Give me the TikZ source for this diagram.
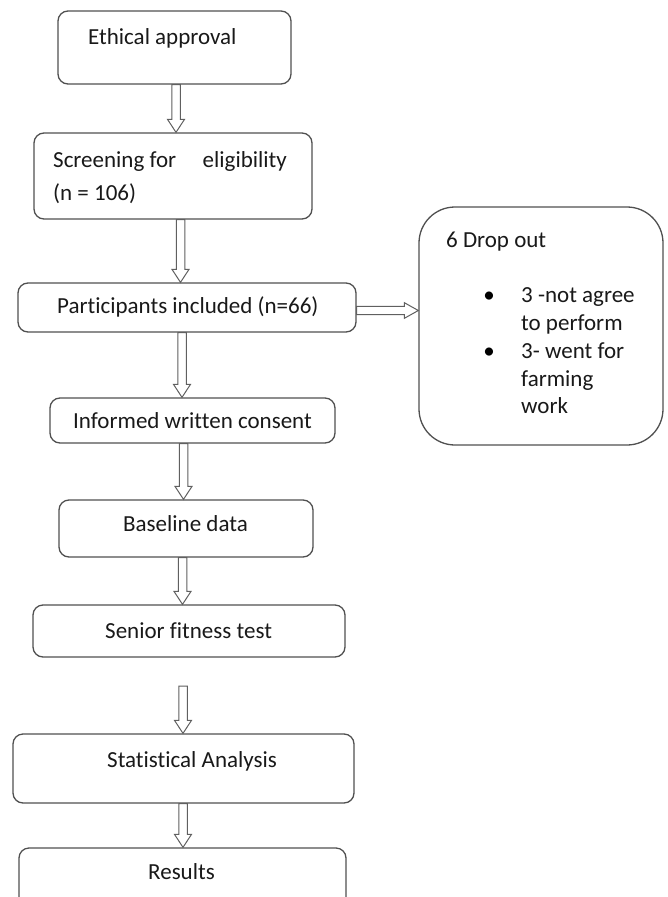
\documentclass[tikz,border=0pt]{standalone}
\usepackage{fontspec}
\setmainfont{Carlito}[Ligatures={NoCommon}]
\usetikzlibrary{calc}
\definecolor{boxline}{HTML}{505050}
\definecolor{arrline}{HTML}{606060}
\tikzset{
  box/.style={draw=boxline, line width=1.3pt, rounded corners=10pt, rectangle, inner sep=0pt, fill=white},
  bigbox/.style={box, rounded corners=36pt},
  txt/.style={anchor=base west, inner sep=0pt, font=\fontsize{23}{27}\selectfont, text=black!90},
  bul/.style={anchor=base, inner sep=0pt, font=\fontsize{23}{27}\selectfont, text=black},
  harrow/.style={draw=arrline, line width=1pt, fill=white, line join=miter}
}
\newcommand{\hollowdown}[3]{%
  \draw[harrow] let \p1=(#2), \p2=(#3) in
   (#1pt-4.25pt,\y1) -- (#1pt-4.25pt,\y2+13pt) -- (#1pt-8.5pt,\y2+13pt) -- (#1pt,\y2)
   -- (#1pt+8.5pt,\y2+13pt) -- (#1pt+4.25pt,\y2+13pt) -- (#1pt+4.25pt,\y1) -- cycle;}
\newcommand{\hollowright}[3]{%
  \draw[harrow] let \p1=(#2), \p2=(#3) in
   (\x1,-#1pt+4.2pt) -- (\x2-14pt,-#1pt+4.2pt) -- (\x2-14pt,-#1pt+7.8pt) -- (\x2,-#1pt)
   -- (\x2-14pt,-#1pt-7.8pt) -- (\x2-14pt,-#1pt-4.2pt) -- (\x1,-#1pt-4.2pt) -- cycle;}
\begin{document}
\begin{tikzpicture}[x=1pt,y=-1pt]
\useasboundingbox (0,0) rectangle (667,897);
\fill[white] (0,0) rectangle (667,897);
% boxes
\node[box, minimum width=233, minimum height=73] (e1) at (174.5,47.5) {};
\node[box, minimum width=278, minimum height=86] (e2) at (173,176) {};
\node[box, minimum width=338, minimum height=49] (e3) at (187,307.5) {};
\node[bigbox, minimum width=244, minimum height=238] (e4) at (541,326) {};
\node[box, minimum width=285, minimum height=45] (e5) at (192.5,420.5) {};
\node[box, minimum width=254, minimum height=57] (e6) at (186,528.5) {};
\node[box, minimum width=312, minimum height=52] (e7) at (189,631) {};
\node[box, minimum width=341, minimum height=69] (e8) at (183.5,768.5) {};
\node[box, minimum width=327, minimum height=62] (e9) at (182.5,879) {};
\coordinate (a6top) at (183,686);
% texts
\node[txt] (t1) at (88,44) {Ethical approval};
\node[txt] (t2a) at (53,167) {Screening for\hspace{26.5pt}eligibility};
\node[txt] (t2b) at (53,200) {(n = 106)};
\node[txt] (t3) at (57,313) {Participants included (n=66)};
\node[txt] (t4) at (446,247) {6 Drop out};
\node[bul] (b1) at (489,302) {\textbullet};
\node[bul] (b2) at (489,358) {\textbullet};
\node[txt] (t4a) at (521,302) {3 -not agree};
\node[txt] (t4b) at (521,330) {to perform};
\node[txt] (t4c) at (521,358) {3- went for};
\node[txt] (t4d) at (521,386) {farming};
\node[txt] (t4e) at (521,413) {work};
\node[txt] (t5) at (73,428) {Informed written consent};
\node[txt] (t6) at (123,531) {Baseline data};
\node[txt] (t7) at (105,638) {Senior fitness test};
\node[txt] (t8) at (107,767) {Statistical Analysis};
\node[txt] (t9) at (148,879) {Results};
% arrows
\hollowdown{176}{e1.south}{e2.north}
\hollowdown{180.5}{e2.south}{e3.north}
\hollowdown{182}{e3.south}{e5.north}
\hollowdown{183.5}{e5.south}{e6.north}
\hollowdown{182.5}{e6.south}{e7.north}
\hollowdown{183}{a6top}{e8.north}
\hollowdown{183}{e8.south}{e9.north}
\hollowright{310.5}{e3.east}{e4.west}
\end{tikzpicture}
\end{document}
